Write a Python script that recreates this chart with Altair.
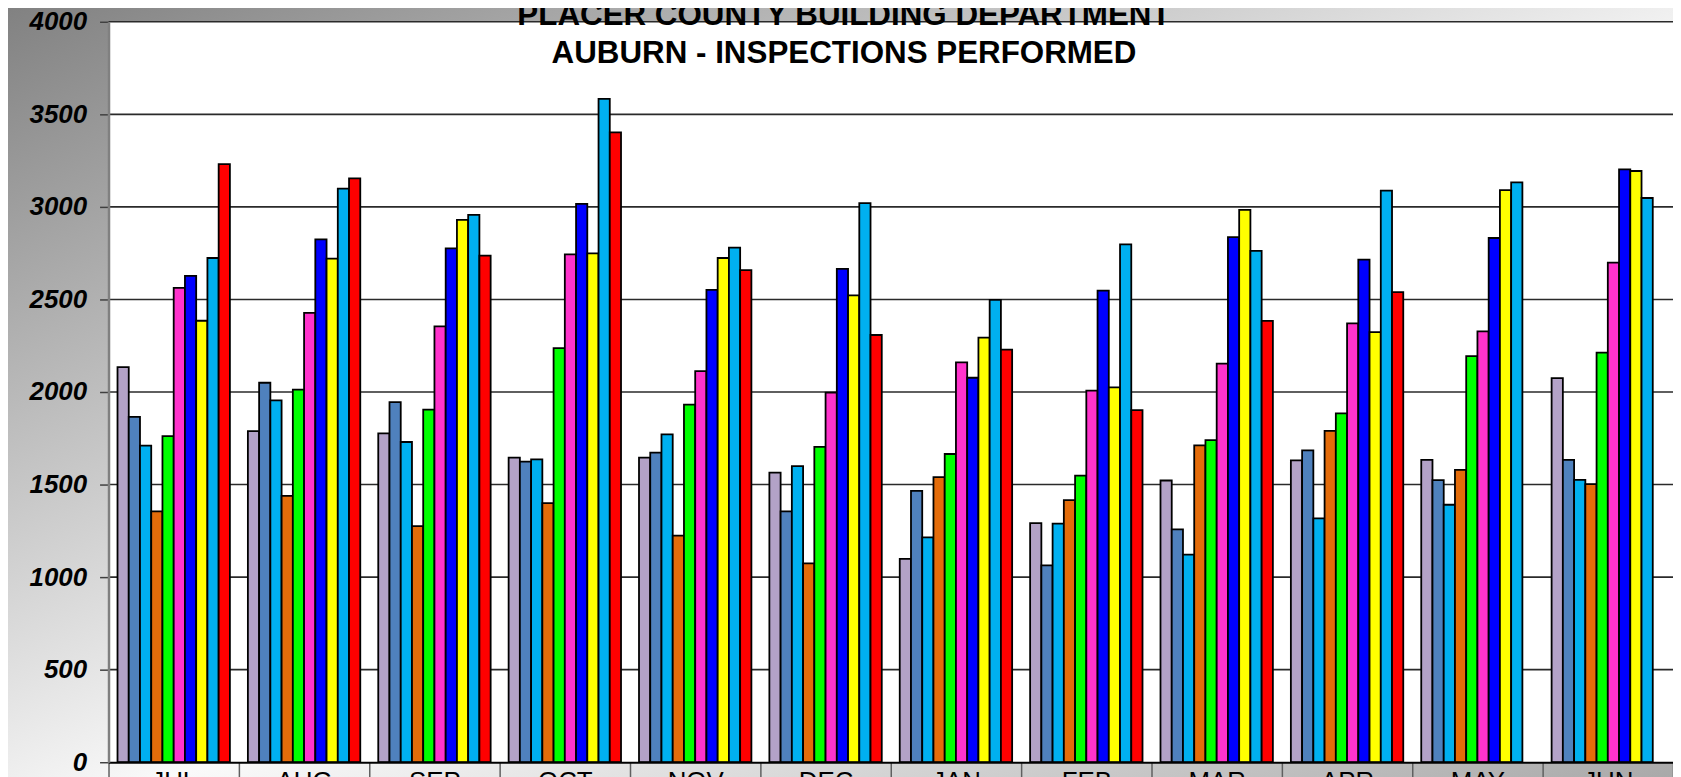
import altair as alt
import pandas as pd

months = ["JUL", "AUG", "SEP", "OCT", "NOV", "DEC", "JAN", "FEB", "MAR", "APR", "MAY", "JUN"]
series = ["Series 1", "Series 2", "Series 3", "Series 4", "Series 5",
          "Series 6", "Series 7", "Series 8", "Series 9", "Series 10"]
colors = ["#b3a2c7", "#4f81bd", "#00b0f0", "#e46c0a", "#00ff00",
          "#ff33cc", "#0000ff", "#ffff00", "#00b0f0", "#ff0000"]

s1 = [2134, 1789, 1776, 1645, 1645, 1565, 1099, 1292, 1522, 1631, 1633, 2075]
s2 = [1866, 2050, 1945, 1624, 1672, 1355, 1466, 1063, 1258, 1685, 1524, 1633]
s3 = [1710, 1955, 1730, 1636, 1771, 1600, 1215, 1289, 1122, 1317, 1391, 1525]
s4 = [1355, 1439, 1276, 1400, 1224, 1074, 1540, 1416, 1712, 1790, 1579, 1502]
s5 = [1762, 2013, 1905, 2237, 1932, 1704, 1665, 1548, 1740, 1884, 2194, 2213]
s6 = [2563, 2427, 2355, 2744, 2113, 1997, 2160, 2007, 2153, 2371, 2328, 2699]
s7 = [2627, 2825, 2776, 3016, 2552, 2665, 2077, 2548, 2837, 2715, 2832, 3203]
s8 = [2385, 2720, 2930, 2749, 2724, 2522, 2294, 2025, 2984, 2323, 3091, 3194]
s9 = [2724, 3099, 2957, 3583, 2780, 3020, 2498, 2798, 2762, 3088, 3133, 3048]
s10 = [3231, 3154, 2737, 3402, 2658, 2308, 2229, 1902, 2384, 2540, None, None]

y_ticks = [0, 500, 1000, 1500, 2000, 2500, 3000, 3500, 4000]
grid_values = [500, 1000, 1500, 2000, 2500, 3000, 3500, 4000]
title_lines = ["PLACER COUNTY BUILDING DEPARTMENT", "AUBURN - INSPECTIONS PERFORMED"]

all_series = [s1, s2, s3, s4, s5, s6, s7, s8, s9, s10]
rows = []
for name, vals in zip(series, all_series):
    for m, v in zip(months, vals):
        if v is not None:
            rows.append({"month": m, "series": name, "value": v})
df = pd.DataFrame(rows)

W, H = 1572, 744
FONT = "Liberation Sans"

one = pd.DataFrame({"k": [0]})

yscale = alt.Scale(domain=[0, 4000], nice=False, zero=True)
yaxis = alt.Axis(values=y_ticks, format="d", title=None, grid=False, labelFont=FONT,
                 labelFontSize=26, labelFontWeight="bold", labelFontStyle="italic",
                 labelColor="black", tickSize=9, tickColor="#404040", tickWidth=1.5,
                 domainColor="#808080", domainWidth=2.5, labelPadding=13, zindex=1)

bg = alt.Chart(one).mark_rect(
    color=alt.LinearGradient(
        gradient="linear", x1=0, y1=0, x2=1, y2=1,
        stops=[alt.GradientStop(color="#808080", offset=0),
               alt.GradientStop(color="#fafafa", offset=0.55),
               alt.GradientStop(color="#a8a8a8", offset=1)])
).encode(x=alt.value(-109), x2=alt.value(W + 10), y=alt.value(-20), y2=alt.value(H + 20))

plotbg = alt.Chart(one).mark_rect(color="white").encode(
    x=alt.value(0), x2=alt.value(W), y=alt.value(0), y2=alt.value(H))

grid = alt.Chart(pd.DataFrame({"v": grid_values})).mark_rule(
    color="#2a2a2a", strokeWidth=1.6
).encode(y=alt.Y("v:Q", scale=yscale, axis=yaxis), x=alt.value(0), x2=alt.value(W))

bars = alt.Chart(df).mark_bar(stroke="black").encode(
    x=alt.X("month:N", sort=months,
            scale=alt.Scale(domain=months, paddingInner=0, paddingOuter=0),
            axis=alt.Axis(title=None, labelAngle=0, labelFont=FONT, labelFontSize=26,
                          labelColor="black", tickBand="extent", tickSize=20,
                          tickColor="#606060", tickWidth=1.5, domainColor="black",
                          domainWidth=2, labelPadding=-14, zindex=1)),
    xOffset=alt.XOffset("series:N", sort=series,
                        scale=alt.Scale(domain=series, paddingInner=0, paddingOuter=0.8)),
    y=alt.Y("value:Q", scale=yscale, axis=yaxis),
    color=alt.Color("series:N", scale=alt.Scale(domain=series, range=colors), legend=None),
    strokeWidth=alt.StrokeWidth("series:N",
                                scale=alt.Scale(domain=series, range=[1.8] * 9 + [0]),
                                legend=None),
)

title = alt.Chart(one).mark_text(
    text=title_lines, font=FONT, fontSize=31.5, fontWeight="bold", color="black",
    align="center", baseline="alphabetic", lineHeight=38
).encode(x=alt.value(739), y=alt.value(3))

chart = alt.layer(bg, plotbg, grid, bars, title).properties(
    width=W, height=H,
    autosize=alt.AutoSizeParams(type="none"),
    padding={"left": 101, "top": 12, "right": 0, "bottom": 13},
).configure_view(strokeWidth=0)

chart.save("out.html", embed_options={"renderer": "svg", "actions": False})
